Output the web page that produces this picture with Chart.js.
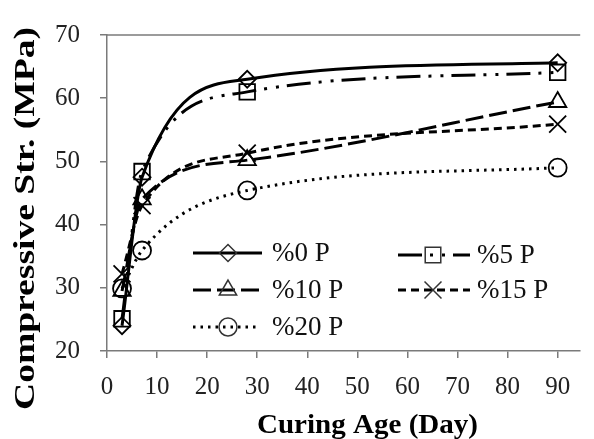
<!DOCTYPE html>
<html><head><meta charset="utf-8">
<script src="https://cdn.jsdelivr.net/npm/chart.js@4.4.0/dist/chart.umd.min.js"></script>
<style>html,body{margin:0;padding:0;background:#fff}#wrap{width:594px;height:439px;position:relative}</style>
</head><body><div id="wrap"><canvas id="c" width="594" height="439"></canvas></div>
<script>
// ---- data ----
const ages = [3, 7, 28, 90];
const p0  = [24.0, 47.5, 63.0, 65.6];
const p5  = [25.1, 48.4, 61.0, 64.1];
const p10 = [29.5, 44.0, 50.2, 59.4];
const p15 = [32.2, 43.0, 51.3, 55.9];
const p20 = [29.9, 35.9, 45.4, 49.0];
const seriesNames = ['%0 P', '%5 P', '%10 P', '%15 P', '%20 P'];
const xTickValues = [0, 10, 20, 30, 40, 50, 60, 70, 80, 90];
const yTickValues = [20, 30, 40, 50, 60, 70];
const xTitle = 'Curing Age (Day)';
const yTitle = 'Compressive Str. (MPa)';

const seriesValues = [p0, p5, p10, p15, p20];
const styles = [
  {pointStyle: 'rectRot',  radius: 8.5, dash: []},
  {pointStyle: 'rect',     radius: 11,  dash: [24, 8, 3, 9, 3, 8]},
  {pointStyle: 'triangle', radius: 10,  dash: [18, 6]},
  {pointStyle: 'crossRot', radius: 12,  dash: [8, 5]},
  {pointStyle: 'circle',   radius: 9,   dash: [2.5, 5]}
];
const SERIF = '"Liberation Serif", "Times New Roman", serif';

const datasets = seriesValues.map((vals, i) => ({
  label: seriesNames[i],
  data: ages.map((a, j) => ({x: a, y: vals[j]})),
  borderColor: '#000',
  borderWidth: 3,
  borderDash: styles[i].dash,
  cubicInterpolationMode: 'monotone',
  pointStyle: styles[i].pointStyle,
  pointRadius: styles[i].radius,
  pointBorderWidth: 1.8,
  pointBorderColor: '#000',
  pointBackgroundColor: 'rgba(0,0,0,0)',
  fill: false
}));

function drawMarker(ctx, style, r, x, y) {
  ctx.beginPath();
  if (style === 'rectRot') {
    ctx.moveTo(x - r, y); ctx.lineTo(x, y - r); ctx.lineTo(x + r, y); ctx.lineTo(x, y + r); ctx.closePath();
  } else if (style === 'rect') {
    const s = Math.SQRT1_2 * r; ctx.rect(x - s, y - s, 2 * s, 2 * s);
  } else if (style === 'triangle') {
    let a = 0;
    ctx.moveTo(x + Math.sin(a) * r, y - Math.cos(a) * r);
    a += 2 * Math.PI / 3; ctx.lineTo(x + Math.sin(a) * r, y - Math.cos(a) * r);
    a += 2 * Math.PI / 3; ctx.lineTo(x + Math.sin(a) * r, y - Math.cos(a) * r);
    ctx.closePath();
  } else if (style === 'crossRot') {
    const s = Math.SQRT1_2 * r;
    ctx.moveTo(x - s, y - s); ctx.lineTo(x + s, y + s);
    ctx.moveTo(x - s, y + s); ctx.lineTo(x + s, y - s);
  } else {
    ctx.arc(x, y, r, 0, Math.PI * 2);
  }
  ctx.stroke();
}

const legendLayout = [
  {x: 193, y: 253, len: 69, tx: 272},
  {x: 398, y: 255, len: 72, tx: 477},
  {x: 193, y: 290, len: 69, tx: 272},
  {x: 398, y: 290, len: 72, tx: 477},
  {x: 193, y: 327, len: 65, tx: 272}
];

const decorPlugin = {
  id: 'decor',
  afterDraw(chart) {
    const ctx = chart.ctx, ca = chart.chartArea;
    // top border
    ctx.save();
    ctx.strokeStyle = '#7a7a7a'; ctx.lineWidth = 1.5;
    ctx.beginPath(); ctx.moveTo(ca.left, ca.top); ctx.lineTo(ca.right, ca.top); ctx.stroke();
    ctx.restore();
    // legend
    seriesNames.forEach((name, i) => {
      const L = legendLayout[i], st = styles[i];
      ctx.save();
      ctx.fillStyle = '#fff';
      ctx.strokeStyle = '#000'; ctx.lineWidth = 3; ctx.setLineDash(st.dash);
      ctx.beginPath(); ctx.moveTo(L.x, L.y); ctx.lineTo(L.x + L.len, L.y); ctx.stroke();
      ctx.setLineDash([]); ctx.lineWidth = 1.5; ctx.strokeStyle = '#333';
      drawMarker(ctx, st.pointStyle, st.radius, L.x + 35, L.y);
      ctx.fillStyle = '#111';
      ctx.font = '27px ' + SERIF;
      ctx.textAlign = 'left'; ctx.textBaseline = 'middle';
      ctx.fillText(name, L.tx, L.y + 1);
      ctx.restore();
    });
    // axis titles
    ctx.save();
    ctx.fillStyle = '#000';
    ctx.font = 'bold 30px ' + SERIF;
    let w = ctx.measureText(yTitle).width;
    ctx.translate(26, 218.5); ctx.rotate(-Math.PI / 2); ctx.scale(383 / w, 1);
    ctx.textAlign = 'center'; ctx.textBaseline = 'middle';
    ctx.fillText(yTitle, 0, 0);
    ctx.restore();
    ctx.save();
    ctx.fillStyle = '#000';
    ctx.font = 'bold 28px ' + SERIF;
    w = ctx.measureText(xTitle).width;
    ctx.translate(367.5, 433); ctx.scale(221 / w, 1);
    ctx.textAlign = 'center'; ctx.textBaseline = 'alphabetic';
    ctx.fillText(xTitle, 0, 0);
    ctx.restore();
  }
};

new Chart(document.getElementById('c'), {
  type: 'line',
  data: {datasets},
  options: {
    responsive: false,
    animation: false,
    events: [],
    layout: {padding: {top: 26.5, right: 0, left: 0, bottom: 0}},
    plugins: {legend: {display: false}, tooltip: {enabled: false}},
    scales: {
      x: {
        type: 'linear', min: 0, max: 94.5,
        afterBuildTicks: s => { s.ticks = xTickValues.map(v => ({value: v})); },
        afterFit: s => { s.height = 88; },
        grid: {display: true, drawOnChartArea: false, drawTicks: true, tickLength: 7, color: '#7a7a7a', lineWidth: 1.5},
        border: {display: true, color: '#7a7a7a', width: 1.5},
        ticks: {color: '#222', font: {family: SERIF, size: 25}, padding: 14, maxRotation: 0, autoSkip: false}
      },
      y: {
        min: 20, max: 70,
        afterBuildTicks: s => { s.ticks = yTickValues.map(v => ({value: v})); },
        afterFit: s => { s.width = 107; },
        grid: {display: true, drawOnChartArea: false, drawTicks: true, tickLength: 7, color: '#7a7a7a', lineWidth: 1.5},
        border: {display: true, color: '#7a7a7a', width: 1.5},
        ticks: {color: '#222', font: {family: SERIF, size: 25}, padding: 20}
      }
    }
  },
  plugins: [decorPlugin]
});
</script>
</body></html>
